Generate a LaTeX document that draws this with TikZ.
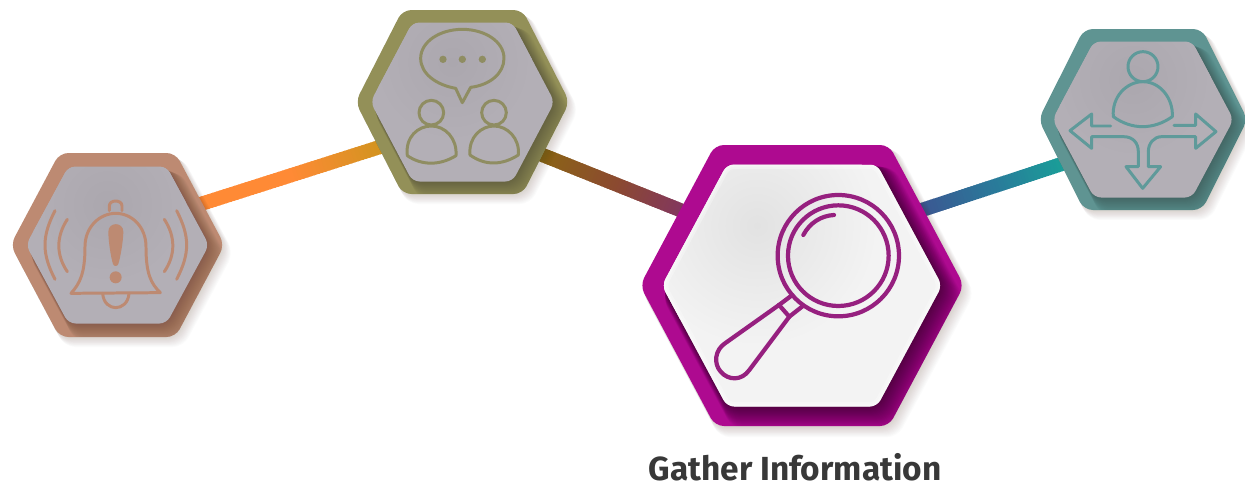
\documentclass[tikz,border=0pt]{standalone}
\usepackage{fontspec}
\setmainfont{Fira Sans}
\usetikzlibrary{calc}
\definecolor{bellring}{HTML}{BD8A72}
\definecolor{talkring}{HTML}{939058}
\definecolor{magring}{HTML}{AE0A90}
\definecolor{decring}{HTML}{5F9492}
\definecolor{fadeinner}{HTML}{B3AFB6}
\definecolor{fadecentre}{HTML}{ABA7AE}
\definecolor{maginner}{HTML}{F3F3F3}
\definecolor{magcentre}{HTML}{E2E2E2}
\definecolor{bellicon}{HTML}{BD8A72}
\definecolor{talkicon}{HTML}{8F8D62}
\definecolor{magicon}{HTML}{96207F}
\definecolor{decicon}{HTML}{5F9A9A}
\definecolor{ca}{HTML}{FF8A35}
\definecolor{cb}{HTML}{FF8A35}
\definecolor{cc}{HTML}{C8961A}
\definecolor{cd}{HTML}{8B6A10}
\definecolor{ce}{HTML}{8B4A30}
\definecolor{cf}{HTML}{7F2F70}
\definecolor{cg}{HTML}{3F4F90}
\definecolor{ch}{HTML}{2A7A9A}
\definecolor{ci}{HTML}{15A898}
\newcommand{\hexpath}[3]{(-#1,0) -- (-#3,-#2) -- (#3,-#2) -- (#1,0) -- (#3,#2) -- (-#3,#2) -- cycle}
% node, outer w h t, inner w h t, ring colour, shadow opacity
\newcommand{\hexouter}[9]{%
  \begin{scope}[shift={(#1)}]
    \foreach \k in {1,...,12}
      \fill[black!70!brown,opacity=.016,rounded corners=6pt,shift={(\k*.55,\k*.65)},scale={1+\k*.002}] \hexpath{#2}{#3}{#4};
    \fill[#8,rounded corners=5pt] \hexpath{#2}{#3}{#4};
    \begin{scope}
      \clip[rounded corners=5pt] \hexpath{#2}{#3}{#4};
      \foreach \k in {1,...,22}
        \fill[black,opacity=#9,rounded corners=6pt,shift={(\k*.5,\k*.55)},scale={1+\k*.0035}] \hexpath{#5}{#6}{#7};
    \end{scope}
  \end{scope}}
% node, inner w h t, base, centre colour, edge opacity, centre offset x, y
\newcommand{\hexinner}[9]{%
  \begin{scope}[shift={(#1)}]
    \begin{scope}
      \clip[rounded corners=4pt] \hexpath{#2}{#3}{#4};
      \fill[#5] (-#2,-#3) rectangle (#2,#3);
      \shade[inner color=#6,outer color=#5] (#8,#9) circle (#3);
      \draw[white,opacity=#7,line width=5pt,rounded corners=4pt] \hexpath{#2}{#3}{#4};
      \draw[white,opacity=#7,line width=2.5pt,rounded corners=4pt] \hexpath{#2}{#3}{#4};
    \end{scope}
  \end{scope}}
% start, end, three colours
\newcommand{\gradconn}[5]{%
  \foreach \i in {0,...,59}{%
    \pgfmathsetmacro{\ta}{\i/60}
    \pgfmathsetmacro{\tb}{min(1,(\i+1.6)/60)}
    \pgfmathsetmacro{\pa}{\i<30 ? 100-\i/30*100 : 100-(\i-30)/30*100}
    \ifnum\i<30 \colorlet{segcol}{#3!\pa!#4}\else \colorlet{segcol}{#4!\pa!#5}\fi
    \draw[connline,segcol] ($(#1)!\ta!(#2)$) -- ($(#1)!\tb!(#2)$);
  }}
\tikzset{
  anchorbox/.style={inner sep=0pt,minimum size=0pt},
  connline/.style={line width=8pt,line cap=butt},
  iconline/.style={line width=1.7pt,line cap=round,line join=round},
  thickicon/.style={line width=2.4pt,line cap=round,line join=round},
  zoomed/.style={x=0.0066667cm,y=-0.0066667cm}
}
\begin{document}
\begin{tikzpicture}[x=0.02cm,y=-0.02cm]
\useasboundingbox (0,0) rectangle (1245,487);
\fill[white] (0,0) rectangle (1245,487);
\node[anchorbox] (bell) at (117.5,245) {};
\node[anchorbox] (talk) at (462.5,102) {};
\node[anchorbox] (mag) at (802,285.5) {};
\node[anchorbox] (dec) at (1143,119.5) {};
\coordinate (c1s) at ($(bell)+(62.5,-34.4)$);
\coordinate (c1e) at ($(talk)+(-62.5,38.6)$);
\coordinate (c2s) at ($(talk)+(62.5,46)$);
\coordinate (c2e) at ($(mag)+(-97,-65.5)$);
\coordinate (c3s) at ($(mag)+(103,-70)$);
\coordinate (c3e) at ($(dec)+(-63,38.5)$);
\gradconn{c1s}{c1e}{ca}{cb}{cc}
\gradconn{c2s}{c2e}{cd}{ce}{cf}
\gradconn{c3s}{c3e}{cg}{ch}{ci}
% hexagons
\hexouter{bell}{107}{92}{58}{91.5}{78.5}{49}{bellring}{.01}
\hexinner{bell}{91.5}{78.5}{49}{fadeinner}{fadecentre}{0}{-10}{-40}
\hexouter{talk}{107}{92}{60}{92}{79.5}{50}{talkring}{.011}
\hexinner{talk}{92}{79.5}{50}{fadeinner}{fadecentre}{0}{-10}{-40}
\hexouter{mag}{162}{140.5}{87}{140}{121}{75}{magring}{.026}
\hexinner{mag}{140}{121}{75}{maginner}{magcentre}{.3}{-45}{-60}
\hexouter{dec}{104.5}{90.5}{59}{90.5}{78}{49}{decring}{.011}
\hexinner{dec}{90.5}{78}{49}{fadeinner}{fadecentre}{0}{-10}{-40}
% bell icon
\begin{scope}[shift={(0,140)},zoomed,bellicon,iconline]
  \draw (213,460) .. controls (240,430) and (255,400) .. (255,320)
     .. controls (255,260) and (300,220) .. (347,220)
     .. controls (395,220) and (438,260) .. (438,320)
     .. controls (438,400) and (452,430) .. (481,458) -- cycle;
  \draw (328,212) -- (328,198) .. controls (328,178) and (366,178) .. (366,198) -- (366,212);
  \draw (308,460) .. controls (310,490) and (330,503) .. (347,503) .. controls (365,503) and (385,490) .. (387,460);
  \fill (325,275) .. controls (325,245) and (370,245) .. (370,275) .. controls (370,300) and (362,350) .. (355,372)
     .. controls (352,380) and (342,380) .. (339,372) .. controls (332,350) and (325,300) .. (325,275) -- cycle;
  \fill (347,412) circle (18);
  \draw (165,212) .. controls (125,290) and (125,340) .. (165,418);
  \draw (202,238) .. controls (168,290) and (168,345) .. (202,395);
  \draw (530,212) .. controls (570,290) and (570,340) .. (530,418);
  \draw (493,238) .. controls (527,290) and (527,345) .. (493,395);
\end{scope}
% talk icon
\begin{scope}[shift={(350,0)},zoomed,talkicon,iconline]
  \draw (362,262) .. controls (420,255) and (462,220) .. (462,175)
     .. controls (462,125) and (405,88) .. (337,88)
     .. controls (270,88) and (212,125) .. (212,175)
     .. controls (212,222) and (260,255) .. (317,265) -- (337,308) -- cycle;
  \fill (279,178) circle (11);
  \fill (337,178) circle (11);
  \fill (397,178) circle (11);
  \draw (244,338) circle (37);
  \draw (172,467) .. controls (165,410) and (205,378) .. (244,378)
     .. controls (285,378) and (322,415) .. (318,467)
     .. controls (270,497) and (215,497) .. (172,467) -- cycle;
  \draw (432,338) circle (37);
  \draw (360,465) .. controls (355,410) and (395,378) .. (432,378)
     .. controls (472,378) and (510,415) .. (505,465)
     .. controls (455,497) and (405,497) .. (360,465) -- cycle;
\end{scope}
% magnifier icon
\begin{scope}[shift={(630,135)},zoomed,magicon,thickicon]
  \draw (625,362) circle (182);
  \draw (625,362) circle (151);
  \draw (520,300) .. controls (540,262) and (575,242) .. (612,240);
  \draw (447,510) -- (285,625) .. controls (255,645) and (250,685) .. (272,710)
     .. controls (295,737) and (335,738) .. (358,705) -- (478,545);
  \draw (447,510) -- (487,480);
  \draw (478,545) -- (520,512);
  \draw (447,510) -- (478,545);
\end{scope}
% decision icon
\begin{scope}[shift={(1030,20)},zoomed,decicon,iconline]
  \draw (339,140) circle (45);
  \draw (250,290) .. controls (245,230) and (290,185) .. (339,185)
     .. controls (390,185) and (430,235) .. (427,290)
     .. controls (370,330) and (305,330) .. (250,290) -- cycle;
  \draw (242,318) -- (185,318) -- (185,282) -- (120,332) -- (185,385) -- (185,350) -- (280,350)
     .. controls (310,350) and (325,370) .. (325,395) -- (325,440) -- (288,440) -- (338,505)
     -- (392,440) -- (355,440) -- (355,395) .. controls (355,370) and (372,350) .. (395,350)
     -- (497,350) -- (497,385) -- (558,335) -- (497,282) -- (497,316) -- (432,316);
\end{scope}
\node[anchorbox,text=black!78,font=\fontsize{19pt}{22pt}\selectfont\bfseries] (caption) at (795,467) {Gather Information};
\end{tikzpicture}
\end{document}
